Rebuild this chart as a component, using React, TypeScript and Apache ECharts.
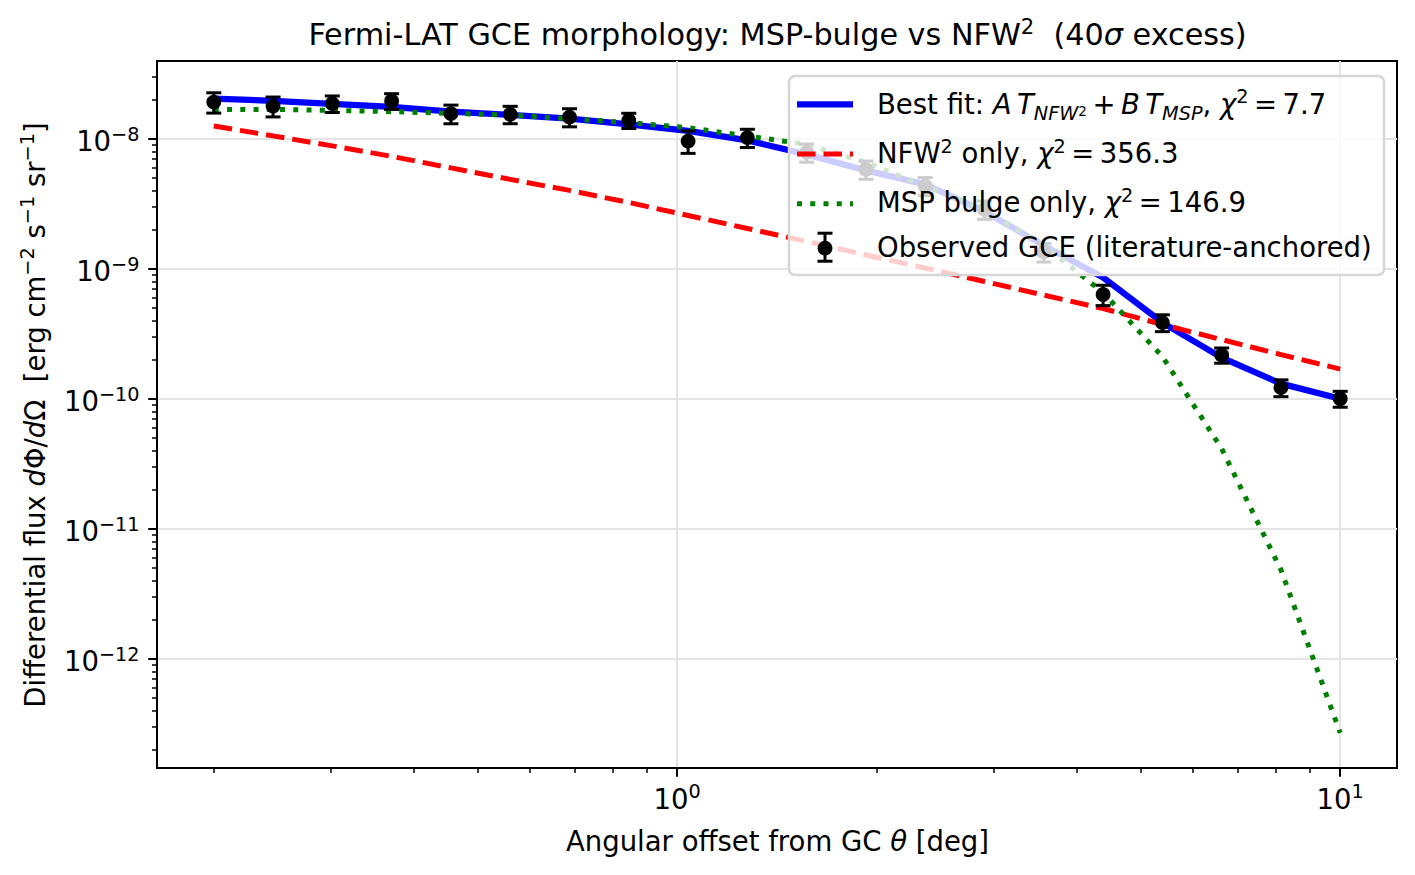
import React, { useEffect, useRef } from "react";
import * as echarts from "echarts";

// ---------------- data ----------------
const theta = [0.2, 0.2457, 0.3018, 0.3709, 0.4557, 0.5599, 0.6879, 0.8452, 1.0385, 1.2759, 1.5676, 1.926, 2.3663, 2.9074, 3.5721, 4.3888, 5.3923, 6.6252, 8.14, 10];

const observedFlux = [1.913e-8, 1.78e-8, 1.86e-8, 1.948e-8, 1.557e-8, 1.538e-8, 1.466e-8, 1.383e-8, 9.58e-9, 1.018e-8, 7.84e-9, 5.8e-9, 4.33e-9, 2.855e-9, 1.345e-9, 6.33e-10, 3.85e-10, 2.166e-10, 1.217e-10, 1.0e-10];
const observedErr = [3.4e-9, 3.1e-9, 2.7e-9, 2.7e-9, 2.55e-9, 2.35e-9, 2.33e-9, 1.85e-9, 1.87e-9, 1.63e-9, 1.25e-9, 0.93e-9, 0.69e-9, 0.46e-9, 0.22e-9, 1.13e-10, 5.7e-11, 2.9e-11, 1.8e-11, 1.4e-11];

const bestFit = [2.031e-8, 1.954e-8, 1.853e-8, 1.757e-8, 1.614e-8, 1.525e-8, 1.426e-8, 1.288e-8, 1.148e-8, 9.7e-9, 7.57e-9, 5.7e-9, 4.45e-9, 2.756e-9, 1.509e-9, 8.56e-10, 3.85e-10, 2.072e-10, 1.307e-10, 1.0e-10];
const nfw2Only = [1.25e-8, 1.051e-8, 8.8e-9, 7.31e-9, 5.96e-9, 4.86e-9, 4.0e-9, 3.23e-9, 2.567e-9, 2.04e-9, 1.62e-9, 1.275e-9, 1.012e-9, 7.97e-10, 6.27e-10, 4.94e-10, 3.72e-10, 2.85e-10, 2.185e-10, 1.69e-10];
const mspOnly = [1.68e-8, 1.68e-8, 1.651e-8, 1.614e-8, 1.566e-8, 1.519e-8, 1.426e-8, 1.328e-8, 1.215e-8, 1.047e-8, 9.04e-9, 6.57e-9, 4.32e-9, 2.855e-9, 1.509e-9, 6.56e-10, 2.11e-10, 4.13e-11, 4.83e-12, 2.69e-13];

const xMajorTicks = [1, 10];
const yMajorTicks = [1e-12, 1e-11, 1e-10, 1e-9, 1e-8];
const minorMultipliers = [2, 3, 4, 5, 6, 7, 8, 9];
const xDecades = [0.1, 1];
const yDecades = [1e-13, 1e-12, 1e-11, 1e-10, 1e-9, 1e-8];

const X_MIN = 0.1642;
const X_MAX = 12.18;
const Y_MIN = 1.445e-13;
const Y_MAX = 3.957e-8;

const TS = "\u2009"; // thin space (mathtext operator spacing)
const legendLabels = [
  `Best fit: {i|A}${TS}{i|T}{sub|NFW}{ss|2}${TS}+${TS}{i|B}${TS}{i|T}{sub|MSP}, {i|χ}{sup|2}${TS}=${TS}7.7`,
  `NFW{sup|2} only, {i|χ}{sup|2}${TS}=${TS}356.3`,
  `MSP bulge only, {i|χ}{sup|2}${TS}=${TS}146.9`,
  "Observed GCE (literature-anchored)",
];

// ---------------- styling ----------------
const FONT = "DejaVu Sans";
const F = 27.5;
const L = 40;
const BLUE = "#0000ff";
const RED = "#ff0000";
const GREEN = "#008000";

const minorOf = (decades: number[], lo: number, hi: number) => {
  const out: number[] = [];
  decades.forEach((d) => minorMultipliers.forEach((m) => {
    const v = d * m;
    if (v > lo && v < hi) out.push(v);
  }));
  return out;
};

const richFor = (fs: number, lh: number) => ({
  b: { fontSize: fs, fontFamily: FONT, color: "#000", fill: "#000", lineHeight: lh },
  i: { fontSize: fs, fontFamily: FONT, fontStyle: "italic", color: "#000", fill: "#000", lineHeight: lh },
  sup: { fontSize: fs * 0.7, fontFamily: FONT, color: "#000", fill: "#000", verticalAlign: "top", height: lh - 0.52 * fs, lineHeight: lh },
  sub: { fontSize: fs * 0.7, fontFamily: FONT, fontStyle: "italic", color: "#000", fill: "#000", verticalAlign: "bottom", height: lh - 0.69 * fs, lineHeight: lh },
  ss: { fontSize: fs * 0.49, fontFamily: FONT, color: "#000", fill: "#000", verticalAlign: "bottom", height: lh - 0.5 * fs, lineHeight: lh },
});

const powLabel = (v: number) => {
  const e = Math.round(Math.log10(v));
  return `{b|10}{sup|${e < 0 ? "\u2212" : ""}${Math.abs(e)}}`;
};

export default function App() {
  const ref = useRef<HTMLDivElement>(null);

  useEffect(() => {
    if (!ref.current) return;
    const chart = echarts.init(ref.current, null, { renderer: "svg" });
    const rich = richFor(F, L);

    const grid = { left: 157, top: 61, width: 1240, height: 707 };
    const legendBox = { x: 789, y: 76, w: 595, h: 199 };
    const rowY = [103.8, 153.2, 202.2, 247.2];
    const handleX1 = 797;
    const handleX2 = 853;
    const textX = 877;
    const errX = (handleX1 + handleX2) / 2;

    const textEl = (text: string, x: number, y: number, extra: any = {}) => ({
      type: "text",
      x,
      y,
      z: 100,
      style: {
        text,
        fontSize: F,
        fontFamily: FONT,
        fill: "#000",
        align: "left",
        verticalAlign: "middle",
        lineHeight: L,
        rich,
        ...extra,
      },
    });

    const option: any = {
      animation: false,
      backgroundColor: "#ffffff",
      textStyle: { fontFamily: FONT, color: "#000" },
      grid: {
        ...grid,
        show: true,
        borderColor: "#000",
        borderWidth: 2,
        backgroundColor: "transparent",
        outerBoundsMode: "none",
        containLabel: false,
      },
      xAxis: [
        {
          type: "log",
          logBase: 10,
          min: X_MIN,
          max: X_MAX,
          position: "bottom",
          axisLine: { show: true, lineStyle: { color: "#000", width: 2 } },
          axisTick: { show: true, customValues: xMajorTicks, length: 8.75, lineStyle: { color: "#000", width: 2 } },
          axisLabel: {
            customValues: xMajorTicks,
            formatter: powLabel,
            margin: 11,
            lineHeight: L,
            color: "#000",
            rich,
          },
          splitLine: { show: true, lineStyle: { color: "#e4e4e4", width: 2 } },
          minorTick: { show: false },
        },
        {
          type: "log",
          logBase: 10,
          min: X_MIN,
          max: X_MAX,
          position: "bottom",
          axisLine: { show: false },
          axisTick: { show: true, customValues: minorOf(xDecades, X_MIN, X_MAX), length: 5, lineStyle: { color: "#000", width: 1.5 } },
          axisLabel: { show: false },
          splitLine: { show: false },
        },
      ],
      yAxis: [
        {
          type: "log",
          logBase: 10,
          min: Y_MIN,
          max: Y_MAX,
          position: "left",
          axisLine: { show: true, lineStyle: { color: "#000", width: 2 } },
          axisTick: { show: true, customValues: yMajorTicks, length: 8.75, lineStyle: { color: "#000", width: 2 } },
          axisLabel: {
            customValues: yMajorTicks,
            formatter: powLabel,
            margin: 17.5,
            lineHeight: L,
            padding: [5, 0, 0, 0],
            color: "#000",
            rich,
          },
          splitLine: { show: true, lineStyle: { color: "#e4e4e4", width: 2 } },
        },
        {
          type: "log",
          logBase: 10,
          min: Y_MIN,
          max: Y_MAX,
          position: "left",
          axisLine: { show: false },
          axisTick: { show: true, customValues: minorOf(yDecades, Y_MIN, Y_MAX), length: 5, lineStyle: { color: "#000", width: 1.5 } },
          axisLabel: { show: false },
          splitLine: { show: false },
        },
      ],
      series: [
        {
          type: "line",
          name: "Best fit",
          xAxisIndex: 0,
          yAxisIndex: 0,
          data: theta.map((t, i) => [t, bestFit[i]]),
          showSymbol: false,
          lineStyle: { color: BLUE, width: 6.25, join: "round" },
          itemStyle: { color: BLUE },
          z: 2,
        },
        {
          type: "line",
          name: "NFW2 only",
          xAxisIndex: 0,
          yAxisIndex: 0,
          data: theta.map((t, i) => [t, nfw2Only[i]]),
          showSymbol: false,
          lineStyle: { color: RED, width: 5, type: [18.5, 8], join: "round" },
          itemStyle: { color: RED },
          z: 3,
        },
        {
          type: "line",
          name: "MSP bulge only",
          xAxisIndex: 0,
          yAxisIndex: 0,
          data: theta.map((t, i) => [t, mspOnly[i]]),
          showSymbol: false,
          lineStyle: { color: GREEN, width: 5, type: [5, 8.25], join: "round" },
          itemStyle: { color: GREEN },
          z: 4,
        },
        {
          type: "custom",
          name: "Observed GCE",
          xAxisIndex: 0,
          yAxisIndex: 0,
          data: theta.map((t, i) => [t, observedFlux[i], observedFlux[i] - observedErr[i], observedFlux[i] + observedErr[i]]),
          encode: { x: 0, y: 1 },
          z: 5,
          renderItem: (params: any, api: any) => {
            const x = api.value(0);
            const c = api.coord([x, api.value(1)]);
            const lo = api.coord([x, api.value(2)]);
            const hi = api.coord([x, api.value(3)]);
            const cap = 7.5;
            const st = { stroke: "#000", lineWidth: 3 };
            return {
              type: "group",
              children: [
                { type: "line", shape: { x1: c[0], y1: lo[1], x2: c[0], y2: hi[1] }, style: st },
                { type: "line", shape: { x1: c[0] - cap, y1: hi[1], x2: c[0] + cap, y2: hi[1] }, style: st },
                { type: "line", shape: { x1: c[0] - cap, y1: lo[1], x2: c[0] + cap, y2: lo[1] }, style: st },
                { type: "circle", shape: { cx: c[0], cy: c[1], r: 7.4 }, style: { fill: "#000" } },
              ],
            };
          },
        },
      ],
      graphic: [
        // title
        textEl("Fermi-LAT GCE morphology: MSP-bulge vs NFW{sup|2}  (40{i|σ} excess)", 777.5, 34.6, {
          align: "center",
          fontSize: 30.25,
          lineHeight: 44,
          rich: richFor(30.25, 44),
        }),
        // x axis name
        textEl("Angular offset from GC {i|θ} [deg]", 777.5, 840.5, { align: "center" }),
        // y axis name
        {
          ...textEl("Differential flux {i|d}Φ/{i|d}Ω  [erg cm{sup|\u22122} s{sup|\u22121} sr{sup|\u22121}]", 35, 415, { align: "center" }),
          rotation: Math.PI / 2,
        },
        // legend frame
        {
          type: "rect",
          z: 99,
          shape: { x: legendBox.x, y: legendBox.y, width: legendBox.w, height: legendBox.h, r: 6 },
          style: { fill: "rgba(255,255,255,0.8)", stroke: "#d6d6d6", lineWidth: 2.5 },
        },
        { type: "line", z: 100, shape: { x1: handleX1, y1: rowY[0] + 0.5, x2: handleX2, y2: rowY[0] + 0.5 }, style: { stroke: BLUE, lineWidth: 6.25 } },
        { type: "line", z: 100, shape: { x1: handleX1, y1: rowY[1] + 0.8, x2: handleX2, y2: rowY[1] + 0.8 }, style: { stroke: RED, lineWidth: 5, lineDash: [18.5, 8] } },
        { type: "line", z: 100, shape: { x1: handleX1, y1: rowY[2] + 1.5, x2: handleX2, y2: rowY[2] + 1.5 }, style: { stroke: GREEN, lineWidth: 5, lineDash: [5, 8.25] } },
        { type: "line", z: 100, shape: { x1: errX, y1: rowY[3] - 14, x2: errX, y2: rowY[3] + 14 }, style: { stroke: "#000", lineWidth: 3 } },
        { type: "line", z: 100, shape: { x1: errX - 7.5, y1: rowY[3] - 14, x2: errX + 7.5, y2: rowY[3] - 14 }, style: { stroke: "#000", lineWidth: 3 } },
        { type: "line", z: 100, shape: { x1: errX - 7.5, y1: rowY[3] + 14, x2: errX + 7.5, y2: rowY[3] + 14 }, style: { stroke: "#000", lineWidth: 3 } },
        { type: "circle", z: 100, shape: { cx: errX, cy: rowY[3] + 1, r: 7.4 }, style: { fill: "#000" } },
        ...legendLabels.map((t, i) => textEl(t, textX, rowY[i])),
      ],
    };

    chart.setOption(option);
    return () => chart.dispose();
  }, []);

  return (
    <div
      ref={ref}
      style={{ position: "fixed", left: 0, top: 0, width: 1415, height: 875, background: "#fff" }}
    />
  );
}
